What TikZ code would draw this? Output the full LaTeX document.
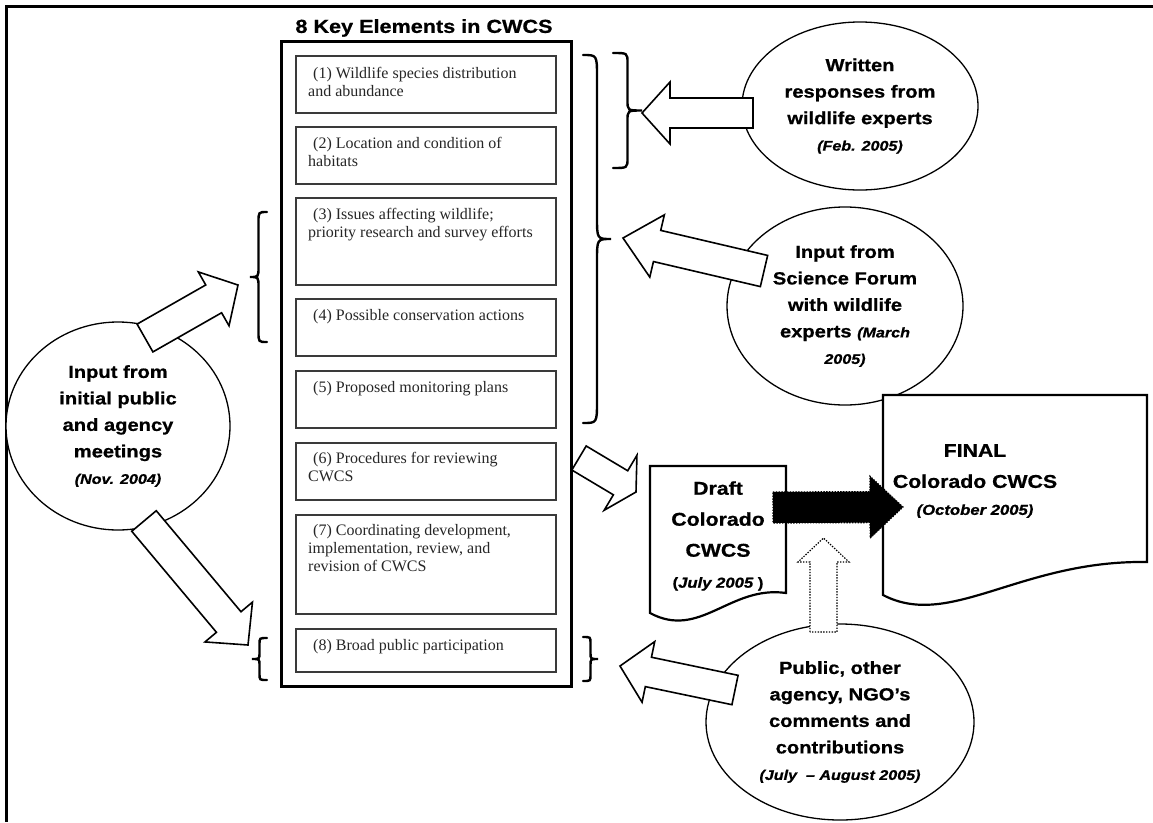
\documentclass[tikz,border=0pt]{standalone}
\usepackage{fontspec}
\setmainfont{Liberation Serif}
\newfontfamily\hv[FakeStretch=1.15,FakeBold=0.8]{Liberation Sans}
\usetikzlibrary{shapes.geometric,calc}
\definecolor{boxline}{HTML}{3A3A3A}
\definecolor{boxtext}{HTML}{262626}

% block arrow: [style]{start}{tip}{half shaft}{half head}{head length}
\newcommand\blockarrow[6][]{%
  \coordinate (ban) at ($(#3)!#6!(#2)$);
  \draw[#1] ($(#2)!#4!90:(#3)$) -- ($(ban)!#4!90:(#3)$) -- ($(ban)!#5!90:(#3)$)
     -- (#3) -- ($(ban)!#5!-90:(#3)$) -- ($(ban)!#4!-90:(#3)$) -- ($(#2)!#4!-90:(#3)$) -- cycle;
}
% curly brace: [style]{x0}{y0}{y1}{signed depth}{curl}
\newcommand\curlybrace[6][]{%
  \draw[#1] (#2,#3) .. controls ({#2+(#5)},#3) .. ({#2+(#5)},{#3+#6})
    -- ({#2+(#5)},{(#3+#4)/2-#6}) .. controls ({#2+(#5)},{(#3+#4)/2}) .. ({#2+2*(#5)},{(#3+#4)/2})
    .. controls ({#2+(#5)},{(#3+#4)/2}) .. ({#2+(#5)},{(#3+#4)/2+#6})
    -- ({#2+(#5)},{#4-#6}) .. controls ({#2+(#5)},#4) .. (#2,#4);
}
\newcommand\datetxt[1]{{\fontsize{14}{26.5}\selectfont\itshape #1}}

\tikzset{
  elbox/.style={draw=boxline, line width=1.8pt, minimum width=260pt, inner sep=0pt, anchor=north west},
  eltxt/.style={anchor=north west, align=left, inner sep=0pt, text=boxtext,
    font=\fontsize{16}{18}\selectfont},
  bubble/.style={ellipse, draw, line width=1.3pt, inner sep=0pt, align=center, fill=white,
    font=\hv\bfseries\fontsize{17.5}{26.5}\selectfont},
  bigarrow/.style={draw, fill=white, line width=1.6pt, line join=miter},
  bracestyle/.style={line width=2.4pt, line cap=round},
  docshape/.style={draw, fill=white, line width=2.2pt, line join=miter},
  doctxt/.style={align=center, inner sep=0pt, font=\hv\bfseries\fontsize{18.5}{31}\selectfont},
  dotarrow/.style={draw, line width=1.2pt, dash pattern=on 1.4pt off 1.4pt},
}

\begin{document}
\begin{tikzpicture}[x=1pt,y=-1pt]
\useasboundingbox (0,0) rectangle (1153,822);
\fill[white] (0,0) rectangle (1153,822);
% frame
\draw[line width=3pt] (1153,6) -- (6,6) -- (6,822);

% title and outer box
\node[font=\hv\bfseries\fontsize{18.8}{22}\selectfont, inner sep=0pt] (title) at (424,28) {8 Key Elements in CWCS};
\node[draw, line width=2.8pt, minimum width=290pt, minimum height=645pt, anchor=north west, inner sep=0pt] (outer) at (280,40) {};

% element boxes
\node[elbox, minimum height=57pt] (b1) at (295,55) {};
\node[elbox, minimum height=57pt] (b2) at (295,126) {};
\node[elbox, minimum height=87pt] (b3) at (295,197) {};
\node[elbox, minimum height=57pt] (b4) at (295,298) {};
\node[elbox, minimum height=57pt] (b5) at (295,370) {};
\node[elbox, minimum height=57pt] (b6) at (295,442) {};
\node[elbox, minimum height=99pt] (b7) at (295,514) {};
\node[elbox, minimum height=43pt] (b8) at (295,628) {};

\node[eltxt] (t1) at ([xshift=13pt,yshift=-12pt]b1.north west) {\hspace*{5pt}(1) Wildlife species distribution\\and abundance};
\node[eltxt] (t2) at ([xshift=13pt,yshift=-11pt]b2.north west) {\hspace*{5pt}(2) Location and condition of\\habitats};
\node[eltxt] (t3) at ([xshift=13pt,yshift=-11pt]b3.north west) {\hspace*{5pt}(3) Issues affecting wildlife;\\priority research and survey efforts};
\node[eltxt] (t4) at ([xshift=13pt,yshift=-11pt]b4.north west) {\hspace*{5pt}(4) Possible conservation actions};
\node[eltxt] (t5) at ([xshift=13pt,yshift=-11pt]b5.north west) {\hspace*{5pt}(5) Proposed monitoring plans};
\node[eltxt] (t6) at ([xshift=13pt,yshift=-10pt]b6.north west) {\hspace*{5pt}(6) Procedures for reviewing\\CWCS};
\node[eltxt] (t7) at ([xshift=13pt,yshift=-10pt]b7.north west) {\hspace*{5pt}(7) Coordinating development,\\implementation, review, and\\revision of CWCS};
\node[eltxt] (t8) at ([xshift=13pt,yshift=-11pt]b8.north west) {\hspace*{5pt}(8) Broad public participation};

% braces
\curlybrace[bracestyle]{583}{55}{423}{14}{22}
\curlybrace[bracestyle]{613}{53}{168}{14.5}{10}
\curlybrace[bracestyle]{267}{212}{342}{-8.5}{10}
\curlybrace[bracestyle]{267}{638}{680}{-7.5}{6}
\curlybrace[bracestyle]{583}{637}{681}{7.5}{6}

% ellipses
\node[bubble, minimum width=236pt, minimum height=168pt] (written) at (860,106)
  {Written\\responses from\\wildlife experts\\\datetxt{(Feb. 2005)}};
\node[bubble, minimum width=236pt, minimum height=198pt] (science) at (845,306)
  {Input from\\Science Forum\\with wildlife\\experts \datetxt{(March}\\\datetxt{2005)}};
\node[bubble, minimum width=268pt, minimum height=196pt] (public) at (840,722)
  {Public, other\\agency, NGO’s\\comments and\\contributions\\\datetxt{(July\ \ – August 2005)}};
\node[bubble, minimum width=224pt, minimum height=208pt] (initial) at (118,426)
  {Input from\\initial public\\and agency\\meetings\\\datetxt{(Nov. 2004)}};

% document shapes
\draw[docshape] (650,466) coordinate (draftnw) -- (786,466) -- (786,593)
   .. controls (730,585) and (700,640) .. (650,613) -- cycle;
\node[doctxt] (draft) at (718,536) {Draft\\Colorado\\CWCS\\{\fontsize{14.5}{27}\selectfont (\itshape July 2005 \upshape)}};
\draw[docshape] (883,395) coordinate (finalnw) -- (1147,395) -- (1147,562)
   .. controls (1020,560) and (950,630) .. (883,595) -- cycle;
\node[doctxt] (final) at (975,481) {FINAL\\Colorado CWCS\\[-4pt]{\fontsize{14.5}{27}\selectfont\itshape (October 2005)}};

% arrow end points
\coordinate (wrS) at (753,113);   \coordinate (wrT) at (642,113);
\coordinate (scS) at (764,271);   \coordinate (scT) at (623,238);
\coordinate (puS) at (735,690);   \coordinate (puT) at (620,666);
\coordinate (upS) at (145,338);   \coordinate (upT) at (238,285);
\coordinate (dnS) at (144,521);   \coordinate (dnT) at (248,645);
\coordinate (bxS) at (579,458);   \coordinate (bxT) at (636,492);
\coordinate (blS) at (773,507.5); \coordinate (blT) at (903,507);
\coordinate (dtS) at (823.5,632); \coordinate (dtT) at (823.5,538);

\blockarrow[bigarrow]{wrS}{wrT}{15pt}{31pt}{28pt}
\blockarrow[bigarrow]{scS}{scT}{16pt}{32pt}{35pt}
\blockarrow[bigarrow]{puS}{puT}{15pt}{31pt}{29pt}
\blockarrow[bigarrow]{upS}{upT}{16pt}{31pt}{28pt}
\blockarrow[bigarrow]{dnS}{dnT}{16pt}{31pt}{30pt}
\blockarrow[bigarrow]{bxS}{bxT}{14pt}{32pt}{18pt}
\blockarrow[dotarrow, fill=black]{blS}{blT}{15.5pt}{31pt}{33pt}
\blockarrow[dotarrow, fill=white]{dtS}{dtT}{13.5pt}{25.5pt}{24pt}
\end{tikzpicture}
\end{document}
